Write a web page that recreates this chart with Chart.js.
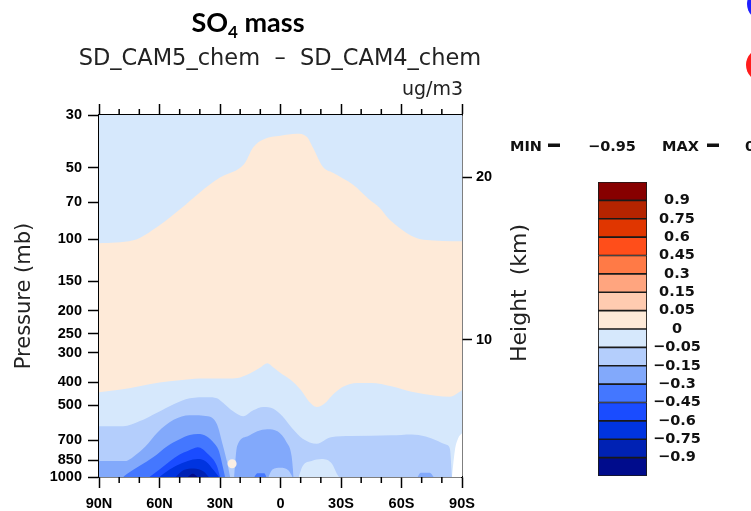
<!DOCTYPE html>
<html>
<head>
<meta charset="utf-8">
<script src="https://cdn.jsdelivr.net/npm/chart.js@4.4.1/dist/chart.umd.min.js"></script>
<style>
  html, body { margin: 0; padding: 0; background: #fff; }
  #wrap { position: relative; width: 751px; height: 511px; overflow: hidden; }
  #main { position: absolute; left: 0; top: 0; }
  #bar { position: absolute; left: 596px; top: 180px; }
  .dot { position: absolute; border-radius: 50%; }
</style>
</head>
<body>
<div id="wrap">
  <canvas id="main" width="751" height="511"></canvas>
  <canvas id="bar" width="155" height="300"></canvas>
  <div class="dot" style="left:747px; top:-13px; width:34px; height:34px; background:#1f1fff"></div>
  <div class="dot" style="left:746px; top:48px; width:34px; height:34px; background:#ff1c1c"></div>
</div>
<script>
// axis ticks
const pressureTicks = [30, 50, 70, 100, 150, 200, 250, 300, 400, 500, 700, 850, 1000];
const latTicks = [90, 60, 30, 0, -30, -60, -90];
const latMinor = [80, 70, 50, 40, 20, 10, -10, -20, -40, -50, -70, -80];
const heightKm = [10, 20];

// contour levels (ug/m3) and band colours, lowest band first
const levels = [-0.9, -0.75, -0.6, -0.45, -0.3, -0.15, -0.05, 0, 0.05, 0.15, 0.3, 0.45, 0.6, 0.75, 0.9];
const bandColors = ['#000c8c', '#0022b4', '#0034e0', '#1a4cff', '#4477ff', '#82a9fb', '#b4cefc', '#d6e8fc',
                    '#feead8', '#ffcbb0', '#ffa57f', '#ff7a46', '#ff4e1a', '#e03600', '#b52400', '#870000'];
const MIN_VAL = -0.95;
const MAX_VAL = 0.04;

// contour band boundaries: latitude (N +) and top pressure (mb) of each filled band
const upperLat = [90, -90];
const upperP = [30, 30];

const peachTopLat = [90, 73, 61, 50, 40, 30, 20, 17.5, 13.5, 8.5, 0, -8, -13, -16, -21, -26, -36, -44, -49, -54, -71, -90];
const peachTopP = [104, 101, 88.5, 75, 63.5, 55, 50, 47.5, 41, 38, 36.7, 36, 37, 41, 49.5, 52.5, 59, 68, 73.5, 82.5, 100.5, 102];

const lowLightLat = [90, 80, 70, 60, 50, 40, 25, 20, 15, 10, 6.5, 3.5, 0, -5, -10, -14, -18, -22, -26, -31, -38, -45, -55, -65, -77, -84, -90];
const lowLightP = [440, 430, 415, 400, 392, 385, 385, 381, 366, 346, 332, 346, 365, 390, 430, 480, 508, 490, 450, 417, 402, 402, 415, 438, 455, 460, 432];

const m015Lat = [90, 78, 70, 61, 53, 45, 36, 31.5, 28.5, 23.5, 18.5, 13.5, 8.5, 3.5, -1, -6, -11, -18, -25, -35, -55, -65, -72, -78, -82, -84, -85];
const m015P = [612, 612, 583, 535, 494, 466, 462, 466, 487, 529, 555, 524, 507, 516, 555, 627, 690, 724, 680, 673, 668, 662, 675, 705, 730, 760, 1000];

const m03WestLat = [90, 77, 72, 67, 61, 53, 45, 36, 31.5, 28.5, 26.5, 25];
const m03WestP = [857, 857, 810, 745, 650, 575, 550, 555, 600, 741, 865, 1000];
const m03MidLat = [23, 21.5, 16.5, 11.5, 6.5, 1.5, -3, -5.5, -6.5];
const m03MidP = [1000, 740, 675, 642, 629, 642, 714, 816, 1000];
const m03SouthLat = [-68, -69.5, -74, -76];
const m03SouthP = [1000, 960, 960, 1000];

const m045Lat = [78, 76, 70, 63, 56, 50, 45, 41, 36.5, 33, 30.5, 28.5, 27.5];
const m045P = [1000, 970, 900, 824, 740, 693, 665, 660, 675, 720, 780, 915, 1000];
const m045MidLat = [13, 11.5, 8, 7];
const m045MidP = [1000, 965, 965, 1000];

const m06Lat = [65, 60, 55, 50, 46, 41, 36, 31.5, 30];
const m06P = [1000, 930, 860, 805, 778, 750, 800, 900, 1000];

const m075Lat = [60, 58, 52, 46, 41, 37, 33, 30.5];
const m075P = [1000, 970, 900, 857, 841, 860, 940, 1000];

const m09Lat = [52, 48, 43, 38, 35.5];
const m09P = [1000, 935, 920, 950, 1000];

const minLat = [46, 43.5, 41];
const minP = [1000, 970, 1000];

const surfLat = [6, 4, 0, -4, -6];
const surfP = [1000, 930, 915, 940, 1000];

const patchLat = [-9, -11, -15.5, -20.5, -25.5, -28, -29];
const patchP = [1000, 900, 857, 841, 880, 971, 1000];

const poleLat = [-85, -86.5, -88, -90];
const poleP = [1000, 770, 690, 655];

// painted in this order, each band filled down to the surface
const layers = [
  { lat: upperLat, p: upperP, color: bandColors[7] },
  { lat: peachTopLat, p: peachTopP, color: bandColors[8] },
  { lat: lowLightLat, p: lowLightP, color: bandColors[7] },
  { lat: m015Lat, p: m015P, color: bandColors[6] },
  { lat: m03WestLat, p: m03WestP, color: bandColors[5] },
  { lat: m03MidLat, p: m03MidP, color: bandColors[5] },
  { lat: m03SouthLat, p: m03SouthP, color: bandColors[5] },
  { lat: m045Lat, p: m045P, color: bandColors[4] },
  { lat: m045MidLat, p: m045MidP, color: bandColors[4] },
  { lat: m06Lat, p: m06P, color: bandColors[3] },
  { lat: m075Lat, p: m075P, color: bandColors[2] },
  { lat: m09Lat, p: m09P, color: bandColors[1] },
  { lat: minLat, p: minP, color: bandColors[0] },
  { lat: surfLat, p: surfP, color: bandColors[6] },
  { lat: patchLat, p: patchP, color: bandColors[7] },
  { lat: poleLat, p: poleP, color: '#ffffff' }
];

const FONT = 'DejaVu Sans';
const TICK_FONT = 'Liberation Sans';
Chart.defaults.font.family = FONT;

// US standard atmosphere pressure (mb) at a height in km
function stdPressure(km) {
  if (km <= 11) return 1013.25 * Math.pow(1 - 0.0065 * km * 1000 / 288.15, 5.25588);
  return 226.32 * Math.exp(-0.000157688 * (km - 11) * 1000);
}

function latLabel(v) {
  if (v > 0) return v + 'N';
  if (v < 0) return (-v) + 'S';
  return '0';
}

function fmtLevel(v) {
  return v < 0 ? '\u2212' + String(-v) : String(v);
}

const datasets = layers.map((L, i) => ({
  data: L.lat.map((x, k) => ({ x: x, y: L.p[k] })),
  backgroundColor: L.color,
  borderWidth: 0,
  pointRadius: 0,
  fill: { value: 1000 },
  cubicInterpolationMode: 'monotone',
  order: 100 - i
}));

// small near-surface spot north of the equator
datasets.push({
  data: [{ x: 24, y: 880 }],
  showLine: false,
  fill: false,
  pointRadius: 4.5,
  pointBorderWidth: 0,
  pointBackgroundColor: '#fbefe4',
  order: 0
});

const tickFont = { family: TICK_FONT, size: 14.5, weight: 'bold' };
const axisLine = { color: '#000', width: 1.5 };
const tickGrid = { drawOnChartArea: false, tickLength: 11, tickWidth: 1.5, tickColor: '#000' };

const minorTicks = {
  id: 'minorTicks',
  afterDraw(chart) {
    const { ctx, chartArea: a, scales: { x } } = chart;
    ctx.save();
    ctx.strokeStyle = '#000';
    ctx.lineWidth = 1.5;
    ctx.beginPath();
    latMinor.forEach(v => {
      const px = x.getPixelForValue(v);
      ctx.moveTo(px, a.bottom);
      ctx.lineTo(px, a.bottom + 6);
      ctx.moveTo(px, a.top);
      ctx.lineTo(px, a.top - 6);
    });
    ctx.stroke();
    ctx.restore();
  }
};

const annotations = {
  id: 'annotations',
  afterDraw(chart) {
    const ctx = chart.ctx;
    ctx.save();
    ctx.fillStyle = '#000';

    // title with subscript
    const big = 'bold 27px Lato';
    const small = 'bold 17px Lato';
    ctx.font = big;
    const wSO = ctx.measureText('SO').width;
    const wMass = ctx.measureText(' mass').width;
    ctx.font = small;
    const w4 = ctx.measureText('4').width;
    const tx = 248 - (wSO + w4 + wMass) / 2;
    ctx.textAlign = 'left';
    ctx.textBaseline = 'alphabetic';
    ctx.font = big;
    ctx.fillText('SO', tx, 32);
    ctx.font = small;
    ctx.fillText('4', tx + wSO, 38);
    ctx.font = big;
    ctx.fillText(' mass', tx + wSO + w4, 32);

    ctx.fillStyle = '#222';
    ctx.font = '22.5px ' + FONT;
    ctx.textAlign = 'center';
    ctx.fillText('SD_CAM5_chem  \u2013  SD_CAM4_chem', 280, 65);

    ctx.font = '19px ' + FONT;
    ctx.textAlign = 'right';
    ctx.fillText('ug/m3', 463, 95);

    ctx.save();
    ctx.translate(520, 293);
    ctx.rotate(-Math.PI / 2);
    ctx.textAlign = 'center';
    ctx.textBaseline = 'middle';
    ctx.font = '22px ' + FONT;
    ctx.fillText('Height  (km)', 0, 0);
    ctx.restore();

    ctx.fillStyle = '#111';
    ctx.font = 'bold 14.5px ' + FONT;
    ctx.textAlign = 'left';
    ctx.fillText('MIN', 510, 151);
    ctx.fillRect(548, 143.5, 12, 3.5);
    ctx.fillText(fmtLevel(MIN_VAL), 588, 151);
    ctx.fillText('MAX', 662, 151);
    ctx.fillRect(707, 143.5, 12, 3.5);
    ctx.fillText(fmtLevel(MAX_VAL), 745, 151);
    ctx.restore();
  }
};

new Chart(document.getElementById('main'), {
  type: 'line',
  data: { datasets },
  plugins: [minorTicks, annotations],
  options: {
    responsive: false,
    animation: false,
    events: [],
    layout: { padding: { top: 104, bottom: 0, left: 0, right: 249 } },
    plugins: { legend: { display: false }, tooltip: { enabled: false } },
    scales: {
      x: {
        type: 'linear', position: 'bottom', min: -90, max: 90, reverse: true,
        afterBuildTicks: s => { s.ticks = latTicks.map(v => ({ value: v })); },
        afterFit: s => { s.height = 34; },
        ticks: { callback: latLabel, font: tickFont, color: '#000', padding: 7, maxRotation: 0, autoSkip: false },
        grid: tickGrid,
        border: axisLine
      },
      x2: {
        axis: 'x', type: 'linear', position: 'top', min: -90, max: 90, reverse: true,
        afterBuildTicks: s => { s.ticks = latTicks.map(v => ({ value: v })); },
        afterFit: s => { s.height = 11; },
        ticks: { callback: () => '', autoSkip: false },
        grid: tickGrid,
        border: axisLine
      },
      y: {
        type: 'logarithmic', position: 'left', min: 30, max: 1000, reverse: true,
        afterBuildTicks: s => { s.ticks = pressureTicks.map(v => ({ value: v })); },
        afterFit: s => { s.width = 99; },
        ticks: { callback: v => String(v), font: tickFont, color: '#000', padding: 6, autoSkip: false },
        grid: tickGrid,
        border: axisLine,
        title: { display: true, text: 'Pressure (mb)', color: '#222', font: { family: FONT, size: 21 }, padding: { top: 12, bottom: 0 } }
      },
      y2: {
        type: 'logarithmic', position: 'right', min: 30, max: 1000, reverse: true,
        afterBuildTicks: s => { s.ticks = heightKm.map(k => ({ value: stdPressure(k) })); },
        afterFit: s => { s.width = 40; },
        ticks: { callback: (v, i) => String(heightKm[i]), font: tickFont, color: '#000', padding: 4, autoSkip: false },
        grid: Object.assign({}, tickGrid, { tickLength: 10 }),
        border: axisLine
      }
    }
  }
});

// label bar: one stacked box per band
new Chart(document.getElementById('bar'), {
  type: 'bar',
  data: {
    labels: [''],
    datasets: bandColors.map(c => ({
      data: [1],
      backgroundColor: c,
      borderColor: '#1a1a1a',
      borderWidth: 1.2,
      borderSkipped: false,
      barPercentage: 1,
      categoryPercentage: 1
    }))
  },
  options: {
    responsive: false,
    animation: false,
    events: [],
    layout: { padding: { left: 2, top: 2, bottom: 4, right: 0 } },
    plugins: { legend: { display: false }, tooltip: { enabled: false } },
    scales: {
      x: { display: false, stacked: true },
      y: {
        stacked: true, position: 'right', min: 0, max: bandColors.length,
        afterBuildTicks: s => { s.ticks = levels.map((_, i) => ({ value: i + 1 })); },
        afterFit: s => { s.width = 104; s.paddingTop = 0; s.paddingBottom = 0; },
        ticks: { callback: v => fmtLevel(levels[v - 1]), font: { family: FONT, size: 14.5, weight: 'bold' }, color: '#111', crossAlign: 'center', padding: 6, autoSkip: false },
        grid: { display: false, drawTicks: false },
        border: { display: false }
      }
    }
  }
});
</script>
</body>
</html>
